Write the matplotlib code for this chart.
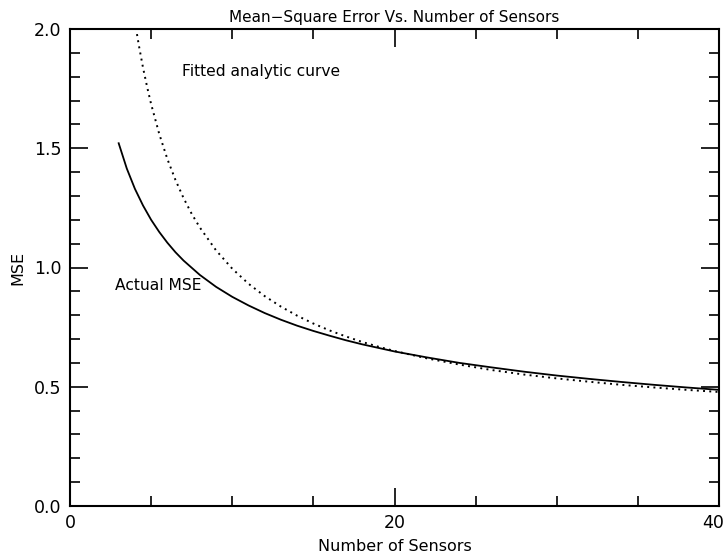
import matplotlib
matplotlib.use("Agg")
import matplotlib.pyplot as plt
import matplotlib.transforms as mtransforms
from matplotlib.ticker import MultipleLocator, FixedLocator

# values
n_actual = [3, 3.5, 4, 4.5, 5, 5.5, 6, 6.5, 7, 8, 9, 10, 11, 12, 13, 14, 15,
            16, 17, 18, 19, 20, 22, 24, 26, 28, 30, 32, 34, 36, 38, 40]
mse_actual = [1.521, 1.415, 1.330, 1.260, 1.200, 1.149, 1.104, 1.064, 1.029,
              0.969, 0.919, 0.877, 0.841, 0.809, 0.781, 0.756, 0.734, 0.714,
              0.695, 0.678, 0.663, 0.648, 0.623, 0.600, 0.581, 0.563, 0.547,
              0.533, 0.520, 0.508, 0.497, 0.487]

n_fit = [4, 4.25, 4.5, 4.75, 5, 5.5, 6, 6.5, 7, 7.5, 8, 9, 10, 11, 12, 13, 14,
         15, 16, 17, 18, 19, 20, 22, 24, 26, 28, 30, 32, 34, 36, 38, 40]
mse_fit = [2.030, 1.929, 1.838, 1.758, 1.685, 1.560, 1.455, 1.367, 1.291,
           1.225, 1.168, 1.072, 0.995, 0.932, 0.880, 0.836, 0.798, 0.765,
           0.736, 0.711, 0.688, 0.668, 0.650, 0.619, 0.593, 0.570, 0.551,
           0.535, 0.521, 0.508, 0.497, 0.487, 0.478]

x_ticks = [0, 20, 40]

plt.rcParams['font.family'] = ['DejaVu Sans']

fig = plt.figure(figsize=(7.28, 5.56), dpi=100)
ax = fig.add_axes([70 / 728, 1 - 506 / 556, 649 / 728, 477 / 556])

ax.plot(n_actual, mse_actual, color='k', linewidth=1.3)
ax.plot(n_fit, mse_fit, color='k', linewidth=1.4, linestyle=(0, (1, 2.2)))

ax.set_xlim(0, 40)
ax.set_ylim(0, 2.0)
ax.xaxis.set_major_locator(FixedLocator(x_ticks))
ax.xaxis.set_minor_locator(MultipleLocator(5))
ax.yaxis.set_major_locator(MultipleLocator(0.5))
ax.yaxis.set_minor_locator(MultipleLocator(0.1))
ax.yaxis.set_major_formatter(matplotlib.ticker.FormatStrFormatter('%.1f'))

ax.tick_params(which='both', direction='in', top=True, right=True,
               labelsize=12.5, width=1.2, pad=6)
ax.tick_params(which='major', length=13)
ax.tick_params(which='minor', length=7)
for s in ax.spines.values():
    s.set_linewidth(1.5)

# the "40" sits on the right edge of the figure, nudge it in a bit
last = ax.get_xticklabels()[-1]
last.set_transform(last.get_transform() +
                   mtransforms.ScaledTranslation(-6 / 100, 0, fig.dpi_scale_trans))

ax.set_title("Mean\u2212Square Error Vs. Number of Sensors", fontsize=11, pad=5)
ax.set_xlabel("Number of Sensors", fontsize=11.5, labelpad=5)
ax.set_ylabel("MSE", fontsize=11.5, labelpad=6)

ax.text(6.9, 1.82, "Fitted analytic curve", fontsize=11.2, va='center')
ax.text(2.8, 0.925, "Actual MSE", fontsize=11.2, va='center')

fig.savefig("out.png", dpi=100)
